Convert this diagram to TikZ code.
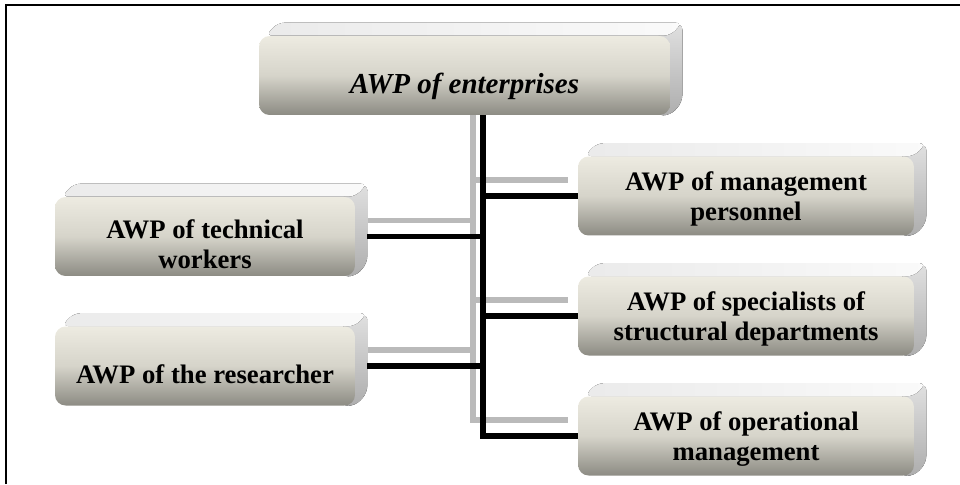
\documentclass[tikz,border=0pt]{standalone}
\usepackage{fontspec}
\setmainfont{Liberation Serif}
\usetikzlibrary{backgrounds}
\definecolor{awplight}{RGB}{237,235,225}
\definecolor{awpmid}{RGB}{214,212,202}
\definecolor{awpdark}{RGB}{140,139,131}

\begin{document}
\begin{tikzpicture}[x=0.02cm, y=-0.02cm,
    awp/.style={rounded corners=6pt, top color=awplight, bottom color=awpdark,
                middle color=awpmid, minimum height=1.58cm, inner sep=1pt,
                text depth=-0.26cm, align=center,
                font=\fontsize{15.2}{17}\selectfont\bfseries},
    link/.style={line width=3.2pt, black},
    ghost/.style={line width=3.4pt, black!27, transform canvas={shift={(-10,-16)}}},
    topface/.style={rounded corners=4pt, left color=black!8, right color=black!2},
    sideface/.style={rounded corners=4pt, top color=black!12, bottom color=black!32}
  ]
    \useasboundingbox (0,0) rectangle (960,484);
    \draw[line width=1.1pt] (6,484) -- (6,5) -- (960,5);

    \node[awp, minimum width=8.22cm, text height=0.7cm,
          font=\fontsize{16.5}{18}\selectfont\bfseries\itshape]
      (top) at (464.5,75.5) {AWP of enterprises};
    \node[awp, minimum width=6cm, text height=1.28cm] (tech) at (205,236.5) {AWP of technical\\workers};
    \node[awp, minimum width=6cm, text height=0.69cm] (res)  at (205,366)   {AWP of the researcher};
    \node[awp, minimum width=6.72cm] (mgmt) at (746,196) {AWP of management\\personnel};
    \node[awp, minimum width=6.72cm] (spec) at (746,316) {AWP of specialists of\\structural departments};
    \node[awp, minimum width=6.72cm] (oper) at (746,436) {AWP of operational\\management};

    \coordinate (bus) at (483,0);

    \begin{scope}[on background layer]
      % grey shadow of the connectors
      \draw[ghost] (top.south -| bus) -- (oper.west -| bus) -- (oper.west);
      \foreach \b in {mgmt,spec}
        \draw[ghost] (\b.west -| bus) -- (\b.west);
      \foreach \b in {tech,res}
        \draw[ghost] ([shift={(12,0)}]\b.east) -- (\b.east -| bus);
      % top and side faces
      \foreach \n in {top,tech,res,mgmt,spec,oper}{
        \fill[sideface] ([xshift=-8pt]\n.north east) -- ([shift={(12,-13)}]\n.north east)
          -- ([shift={(12,-13)}]\n.south east) -- (\n.south east)
          -- ([xshift=-8pt]\n.south east) -- cycle;
        \fill[topface] ([shift={(7,0)}]\n.north west) -- ([shift={(19,-13)}]\n.north west)
          -- ([shift={(12,-13)}]\n.north east) -- (\n.north east) -- cycle;
      }
    \end{scope}

    \draw[link] (top.south -| bus) -- (oper.west -| bus) -- (oper.west);
    \draw[link] (mgmt.west -| bus) -- (mgmt.west);
    \draw[link] (spec.west -| bus) -- (spec.west);
    \draw[link] ([shift={(12,0)}]tech.east) -- (tech.east -| bus);
    \draw[link] ([shift={(12,0)}]res.east) -- (res.east -| bus);
  \end{tikzpicture}
\end{document}
